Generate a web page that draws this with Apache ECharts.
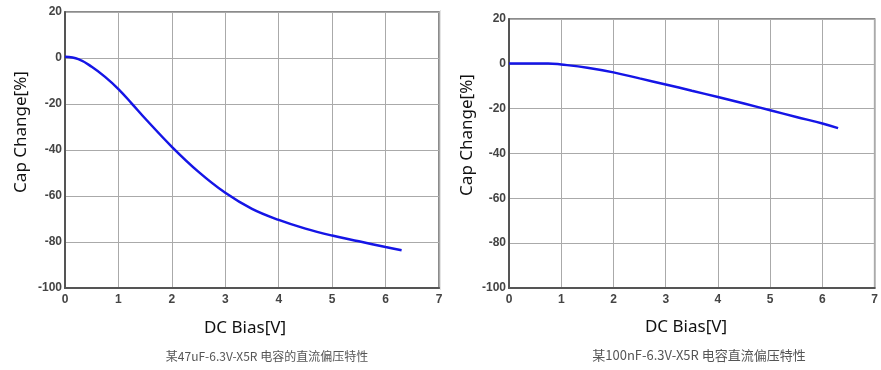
<!DOCTYPE html>
<html><head><meta charset="utf-8">
<script src="https://cdn.jsdelivr.net/npm/echarts@6/dist/echarts.min.js"></script>
<style>html,body{margin:0;padding:0;background:#fff}#c{width:881px;height:370px}</style>
</head><body><div id="c"></div>
<script>
// Left chart: 47uF-6.3V-X5R
const biasA = [0, 0.25, 0.5, 0.75, 1, 1.25, 1.5, 2, 2.5, 3, 3.5, 4, 4.5, 5, 5.5, 6, 6.3];
const capA  = [0.5, -0.5, -3.8, -8.2, -13.5, -19.8, -26.3, -38.6, -49.5, -58.6, -65.6, -70.4, -74.2, -77.2, -79.7, -82.2, -83.6];
// Right chart: 100nF-6.3V-X5R
const biasB = [0, 0.5, 0.75, 1, 1.5, 2, 2.5, 3, 3.5, 4, 4.5, 5, 5.5, 6, 6.3];
const capB  = [0.2, 0.2, 0.2, -0.3, -1.7, -3.8, -6.5, -9.2, -12, -14.8, -17.7, -20.7, -23.7, -26.6, -28.7];
const xTicks = [0, 1, 2, 3, 4, 5, 6, 7];
const yTicks = [-100, -80, -60, -40, -20, 0, 20];
const captionA = '某47uF-6.3V-X5R 电容的直流偏压特性';
const captionB = '某100nF-6.3V-X5R 电容直流偏压特性';
const xName = 'DC Bias[V]';
const yName = 'Cap Change[%]';

const tickFont = {color:'#444', fontSize:12, fontWeight:'bold', fontFamily:'Liberation Sans Narrow, Arial Narrow, Liberation Sans, sans-serif'};
const nameFontFamily = 'Noto Sans, DejaVu Sans, sans-serif';

function xAxis(gi){
  return {type:'value', gridIndex:gi, min:xTicks[0], max:xTicks[xTicks.length-1], interval:1,
    axisLine:{show:true, onZero:false, lineStyle:{color:'#555', width:2}},
    axisTick:{show:false},
    axisLabel:Object.assign({margin:6}, tickFont),
    splitLine:{show:true, lineStyle:{color:'#aaa', width:1}}};
}
function yAxis(gi){
  return {type:'value', gridIndex:gi, min:yTicks[0], max:yTicks[yTicks.length-1], interval:20,
    axisLine:{show:true, onZero:false, lineStyle:{color:'#555', width:2}},
    axisTick:{show:false},
    axisLabel:Object.assign({margin:3}, tickFont),
    splitLine:{show:true, lineStyle:{color:'#aaa', width:1}}};
}
function series(gi, xs, ys){
  return {type:'line', xAxisIndex:gi, yAxisIndex:gi, smooth:0.4, showSymbol:false,
    lineStyle:{color:'#1515e6', width:2.5}, data:xs.map((x,i)=>[x, ys[i]])};
}
function nameText(text, x, y, rot){
  return {type:'text', x:x, y:y, rotation:rot, style:{text:text, fill:'#111', font:'17px ' + nameFontFamily, textAlign:'center', textVerticalAlign:'middle'}};
}

const chart = echarts.init(document.getElementById('c'));
chart.setOption({
  animation:false,
  backgroundColor:'#fff',
  title:[
    {text:captionA, left:262, top:345, textAlign:'center', textStyle:{fontSize:12, fontWeight:'normal', color:'#555', fontFamily:'Noto Sans CJK SC, sans-serif'}},
    {text:captionB, left:694, top:344, textAlign:'center', textStyle:{fontSize:13, fontWeight:'normal', color:'#555', fontFamily:'Noto Sans CJK SC, sans-serif'}}
  ],
  graphic:[
    nameText(yName, 21, 132, Math.PI/2),
    nameText(xName, 245, 328, 0),
    nameText(yName, 467, 135, Math.PI/2),
    nameText(xName, 686, 327, 0),
    {type:'line', shape:{x1:440.5, y1:10, x2:440.5, y2:290}, style:{stroke:'#e4e4e4', lineWidth:1}}
  ],
  grid:[
    {left:65, top:12, width:374, height:276, show:true, borderColor:'#666', borderWidth:1.5, backgroundColor:'transparent'},
    {left:509, top:19, width:366, height:269, show:true, borderColor:'#666', borderWidth:1.5, backgroundColor:'transparent'}
  ],
  xAxis:[xAxis(0), xAxis(1)],
  yAxis:[yAxis(0), yAxis(1)],
  series:[series(0, biasA, capA), series(1, biasB, capB)]
});
</script></body></html>
